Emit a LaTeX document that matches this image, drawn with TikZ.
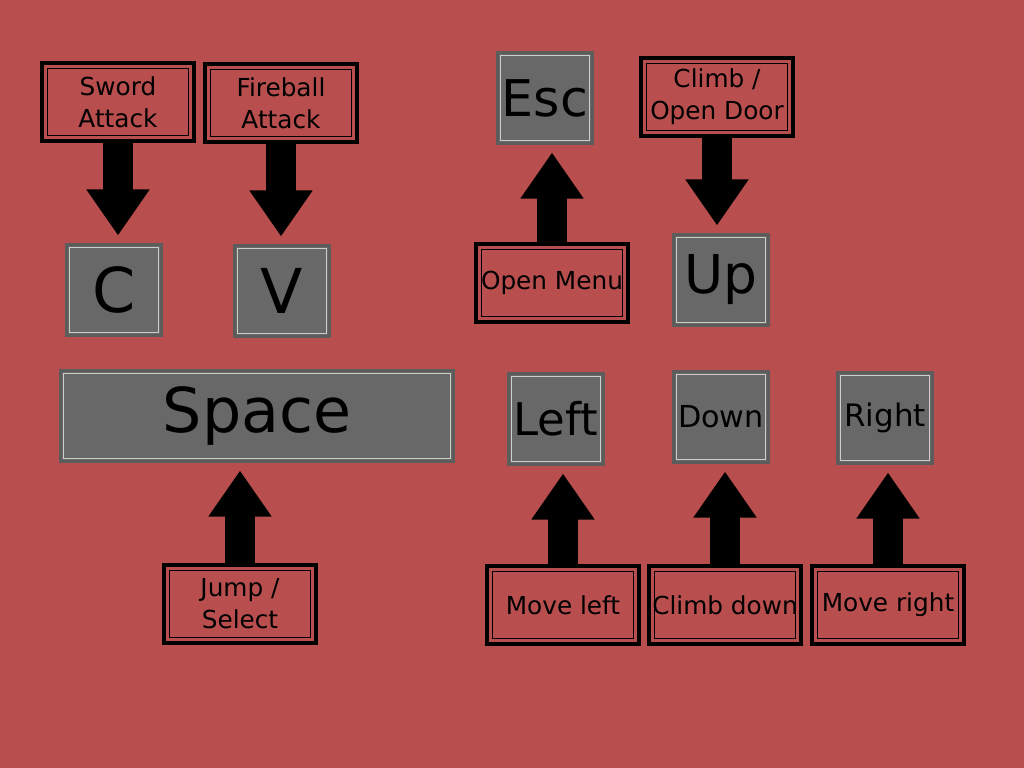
\documentclass[tikz,border=0pt]{standalone}
\usepackage{fontspec}
\setmainfont{DejaVu Sans}
\usetikzlibrary{arrows.meta}

\definecolor{bgred}{RGB}{184,78,78}
\definecolor{keygray}{RGB}{104,104,104}
\definecolor{keyedge}{RGB}{92,92,92}
\definecolor{keyline}{RGB}{205,205,205}

\begin{document}
\begin{tikzpicture}[x=0.025cm, y=-0.025cm, >={Triangle[width=1.5cm,length=1.15cm]}]
\tikzstyle{keybox} = [draw=keyedge, fill=keygray, line width=0.075cm, minimum width=2.375cm, minimum height=2.25cm, inner sep=0pt,
  path picture={\draw[keyline, line width=0.03cm] ([shift={(0.07cm,-0.07cm)}]path picture bounding box.north west) rectangle ([shift={(-0.07cm,0.07cm)}]path picture bounding box.south east);}]
\tikzstyle{action} = [draw=black, line width=0.1cm, minimum width=3.8cm, minimum height=1.95cm, inner sep=0pt, align=center,
  font=\fontsize{17.6}{22.8}\selectfont,
  path picture={\draw[black, line width=0.03cm] ([shift={(0.14cm,-0.14cm)}]path picture bounding box.north west) rectangle ([shift={(-0.14cm,0.14cm)}]path picture bounding box.south east);}]
\tikzstyle{bigarrow} = [->, line width=0.75cm, shorten >=0.2cm]

% background, also fixes the page size
\fill[bgred] (0,0) rectangle (1024,768);

% the keys
\node [keybox, font=\fontsize{44}{44}\selectfont] (c) at (114,290) {C};
\node [keybox, font=\fontsize{44}{44}\selectfont] (v) at (282,291) {V};
\node [keybox, minimum width=9.8cm, font=\fontsize{44}{44}\selectfont] (space) at (257,416) {Space};
\node [keybox, font=\fontsize{36}{36}\selectfont] (esc) at (545,98) {Esc};
\node [keybox, font=\fontsize{38}{38}\selectfont] (up) at (721,280) {Up};
\node [keybox, font=\fontsize{32}{32}\selectfont] (left) at (556,419) {Left};
\node [keybox, font=\fontsize{21.5}{21.5}\selectfont] (down) at (721,417) {Down};
\node [keybox, font=\fontsize{22}{22}\selectfont] (right) at (885,418) {Right};

% what they do
\node [action] (sword) at (118,102) {Sword\\Attack};
\node [action] (fireball) at (281,103) {Fireball\\Attack};
\node [action] (climb) at (717,97) {Climb /\\Open Door};
\node [action] (menu) at (552,283) {Open Menu};
\node [action] (jump) at (240,604) {Jump /\\Select};
\node [action] (moveleft) at (563,605) {Move left};
\node [action] (climbdown) at (725,605) {Climb down};
\node [action] (moveright) at (888,605) {Move right};

% arrows from action to key
\draw [bigarrow] (sword.south) -- (sword.south |- c.north);
\draw [bigarrow] (fireball.south) -- (fireball.south |- v.north);
\draw [bigarrow] (climb.south) -- (climb.south |- up.north);
\draw [bigarrow] (menu.north) -- (menu.north |- esc.south);
\draw [bigarrow] (jump.north) -- (jump.north |- space.south);
\draw [bigarrow] (moveleft.north) -- (moveleft.north |- left.south);
\draw [bigarrow] (climbdown.north) -- (climbdown.north |- down.south);
\draw [bigarrow] (moveright.north) -- (moveright.north |- right.south);

\end{tikzpicture}
\end{document}
